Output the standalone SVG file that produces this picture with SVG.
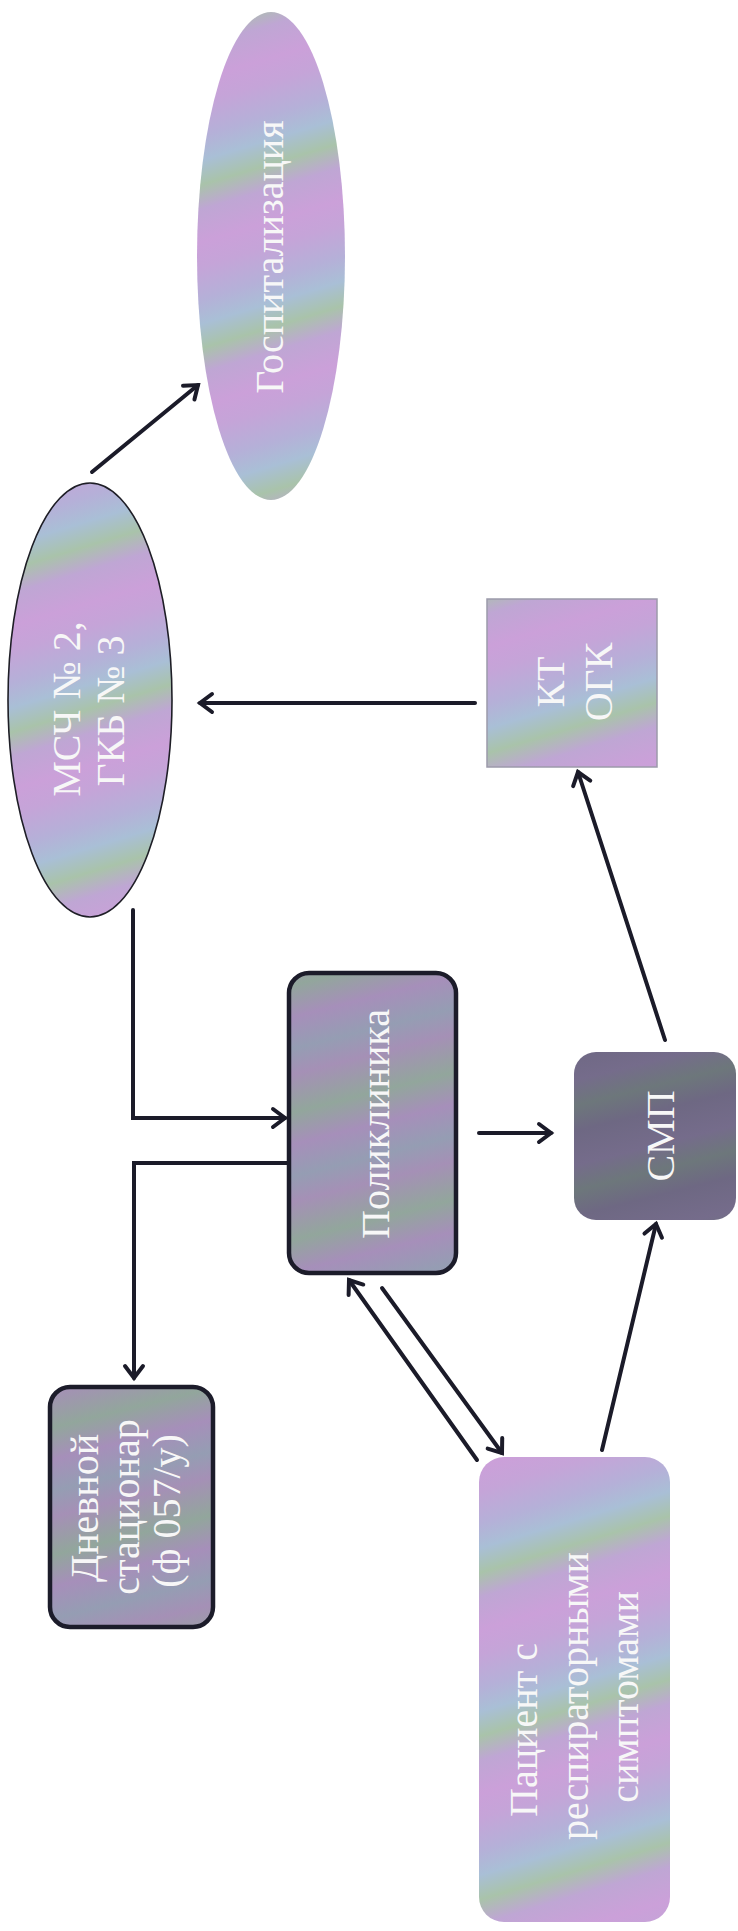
<svg xmlns="http://www.w3.org/2000/svg" width="738" height="1931" viewBox="0 0 738 1931">
<style>
.lbl{font-family:"Liberation Serif","DejaVu Serif","Times New Roman",serif;font-size:40px;fill:#f7f7f7;text-anchor:middle}
.con{stroke:#1b1b29;stroke-width:4;fill:none;stroke-linecap:round;stroke-linejoin:miter}
.dark{stroke:#1c1c2a;stroke-width:4.5}
</style>
<defs>
<linearGradient id="irid" gradientUnits="userSpaceOnUse" x1="0" y1="0" x2="45" y2="150" spreadMethod="repeat">
<stop offset="0" stop-color="#c5a4d8"/>
<stop offset="0.2" stop-color="#b5b0d8"/>
<stop offset="0.35" stop-color="#a9bfd6"/>
<stop offset="0.5" stop-color="#a9c3aa"/>
<stop offset="0.65" stop-color="#bfa6d4"/>
<stop offset="0.85" stop-color="#cba0d9"/>
<stop offset="1" stop-color="#c5a4d8"/>
</linearGradient>
<linearGradient id="iridDark" gradientUnits="userSpaceOnUse" x1="0" y1="0" x2="30" y2="120" spreadMethod="repeat">
<stop offset="0" stop-color="#a590b6"/>
<stop offset="0.3" stop-color="#92a69c"/>
<stop offset="0.55" stop-color="#a68fba"/>
<stop offset="0.8" stop-color="#959db3"/>
<stop offset="1" stop-color="#a590b6"/>
</linearGradient>
<linearGradient id="smp" gradientUnits="userSpaceOnUse" x1="0" y1="0" x2="20" y2="80" spreadMethod="repeat">
<stop offset="0" stop-color="#6e6883"/>
<stop offset="0.4" stop-color="#756c8b"/>
<stop offset="0.7" stop-color="#6d777b"/>
<stop offset="1" stop-color="#6e6883"/>
</linearGradient>
<marker id="arr" markerUnits="userSpaceOnUse" markerWidth="24" markerHeight="24" refX="15" refY="12" orient="auto" viewBox="0 0 24 24">
<path d="M3,3 L15,12 L3,21" fill="none" stroke="#1b1b29" stroke-width="4" stroke-linecap="round" stroke-linejoin="miter"/>
</marker>
</defs>
<rect width="738" height="1931" fill="#ffffff"/>

<g id="connectors">
<line class="con" x1="92" y1="472" x2="198" y2="385" marker-end="url(#arr)"/>
<line class="con" x1="475" y1="703" x2="200" y2="703" marker-end="url(#arr)"/>
<path class="con" d="M133,910 V1118 H285" marker-end="url(#arr)"/>
<path class="con" d="M287,1163 H134 V1378" marker-end="url(#arr)"/>
<line class="con" x1="479" y1="1133" x2="551" y2="1133" marker-end="url(#arr)"/>
<line class="con" x1="665" y1="1040" x2="578" y2="772" marker-end="url(#arr)"/>
<line class="con" x1="602" y1="1450" x2="656" y2="1224" marker-end="url(#arr)"/>
<line class="con" x1="477" y1="1460" x2="349" y2="1280" marker-end="url(#arr)"/>
<line class="con" x1="382" y1="1288" x2="502" y2="1453" marker-end="url(#arr)"/>
</g>

<g id="gospitalizatsiya">
<ellipse cx="271" cy="256" rx="74" ry="244" fill="url(#irid)"/>
<text class="lbl" x="283" y="257" transform="rotate(-90 283 257)">Госпитализация</text>
</g>

<g id="msch">
<ellipse cx="90" cy="700" rx="82" ry="217" fill="url(#irid)" stroke="#1e1e26" stroke-width="1.6"/>
<text class="lbl" x="80" y="709" transform="rotate(-90 80 709)">МСЧ № 2,</text>
<text class="lbl" x="124" y="711" transform="rotate(-90 124 711)">ГКБ № 3</text>
</g>

<g id="kt">
<rect x="487" y="599" width="170" height="168" fill="url(#irid)" stroke="#9c9aaa" stroke-width="1.5"/>
<text class="lbl" x="564" y="682" transform="rotate(-90 564 682)">КТ</text>
<text class="lbl" x="612" y="682" transform="rotate(-90 612 682)">ОГК</text>
</g>

<g id="poliklinika">
<rect class="dark" x="289" y="973" width="167" height="300" rx="20" fill="url(#iridDark)"/>
<text class="lbl" x="389" y="1124" transform="rotate(-90 389 1124)">Поликлиника</text>
</g>

<g id="dnevnoy">
<rect class="dark" x="50" y="1387" width="163" height="240" rx="20" fill="url(#iridDark)"/>
<text class="lbl" x="98" y="1508" transform="rotate(-90 98 1508)">Дневной</text>
<text class="lbl" x="139" y="1507" transform="rotate(-90 139 1507)">стационар</text>
<text class="lbl" x="180" y="1511" transform="rotate(-90 180 1511)">(ф 057/у)</text>
</g>

<g id="smp-node">
<rect x="574" y="1052" width="162" height="168" rx="22" fill="url(#smp)"/>
<text class="lbl" x="674" y="1136" transform="rotate(-90 674 1136)">СМП</text>
</g>

<g id="patsient">
<rect x="479" y="1457" width="191" height="465" rx="25" fill="url(#irid)"/>
<text class="lbl" x="537" y="1730" transform="rotate(-90 537 1730)">Пациент с</text>
<text class="lbl" x="588" y="1696" transform="rotate(-90 588 1696)">респираторными</text>
<text class="lbl" x="638" y="1697" transform="rotate(-90 638 1697)">симптомами</text>
</g>
</svg>
